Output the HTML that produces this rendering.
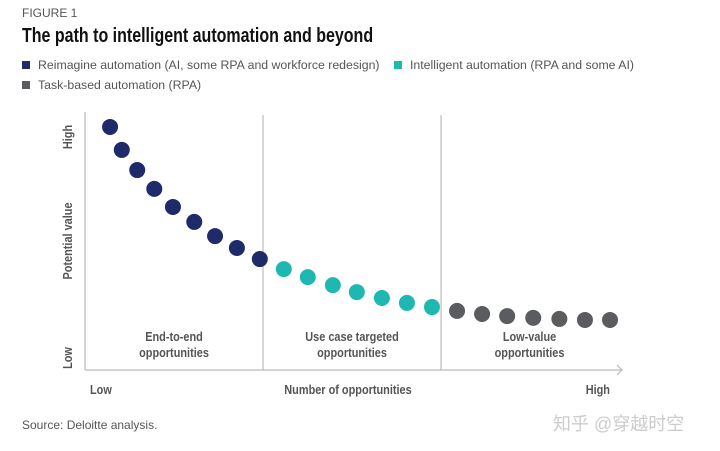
<!DOCTYPE html>
<html><head><meta charset="utf-8"><style>
body{margin:0;width:720px;height:451px;background:#fff;overflow:hidden;font-family:"Liberation Sans",sans-serif;position:relative}
.t{position:absolute;white-space:nowrap}
.sq{display:inline-block;width:8px;height:8px;margin-right:8px;vertical-align:0}
</style></head><body>
<div class="t" style="left:22px;top:6px;font-size:12px;color:#555">FIGURE 1</div>
<div class="t" style="left:22px;top:25px;font-size:20px;font-weight:bold;color:#111;transform:scaleX(0.80);transform-origin:0 0">The path to intelligent automation and beyond</div>
<div class="t" style="left:22px;top:58px;font-size:12.3px;color:#555"><span class="sq" style="background:#1f2a6b"></span>Reimagine automation (AI, some RPA and workforce redesign)</div>
<div class="t" style="left:394px;top:58px;font-size:12.3px;color:#555"><span class="sq" style="background:#1fb8b0"></span>Intelligent automation (RPA and some AI)</div>
<div class="t" style="left:22px;top:78px;font-size:12.3px;color:#555"><span class="sq" style="background:#5a5c60"></span>Task-based automation (RPA)</div>
<svg id="c" width="720" height="451" style="position:absolute;left:0;top:0" font-family="'Liberation Sans',sans-serif"></svg>
<div class="t" style="left:22px;top:418px;font-size:12px;color:#555">Source: Deloitte analysis.</div>
<div class="t" style="left:553px;top:410px;font-size:18px;color:#ccc;font-family:'Liberation Sans','Noto Sans CJK SC',sans-serif">知乎 @穿越时空</div>
<script>
const navyX=[4.7,6.9,9.8,13.0,16.5,20.5,24.4,28.5,32.8];
const navyY=[94.2,85.3,77.5,70.2,63.2,57.4,51.9,47.3,43.0];
const tealX=[37.3,41.8,46.5,51.0,55.7,60.4,65.1];
const tealY=[39.1,36.0,32.9,30.2,27.9,26.0,24.4];
const grayX=[69.8,74.5,79.2,84.1,89.0,93.8,98.5];
const grayY=[22.9,21.7,20.9,20.2,19.8,19.4,19.4];
const dividers=[33.4,66.8];
const sectionLabels=[["End-to-end","opportunities"],["Use case targeted","opportunities"],["Low-value","opportunities"]];
const X0=85,X1=618,Y0=370,Y1=112;
const sx=v=>X0+v/100*(X1-X0), sy=v=>Y0-v/100*(Y0-Y1);
const svg=document.getElementById('c'),NS='http://www.w3.org/2000/svg';
function mk(t,a){const e=document.createElementNS(NS,t);for(const k in a)e.setAttribute(k,a[k]);svg.appendChild(e);return e;}
function condense(el){const w=el.getComputedTextLength();el.setAttribute('textLength',(w*0.84).toFixed(1));el.setAttribute('lengthAdjust','spacingAndGlyphs');}
let e;
e=mk('line',{x1:X0,y1:Y1,x2:X0,y2:Y0,stroke:'#bbb','stroke-width':1.2});


e=mk('line',{x1:X0,y1:Y0,x2:X1+4,y2:Y0,stroke:'#bbb','stroke-width':1.2});


e=mk('polyline',{points:`${X1-1},${Y0-5} ${X1+4},${Y0} ${X1-1},${Y0+5}`,fill:'none',stroke:'#bbb','stroke-width':1.2});


dividers.forEach(d=>{
 e=mk('line',{x1:sx(d),y1:Y1+3,x2:sx(d),y2:Y0,stroke:'#bbb','stroke-width':1.2});
 
 
});
const bounds=[0,...dividers,100];
sectionLabels.forEach((l,i)=>{
 const cx=(sx(bounds[i])+sx(bounds[i+1]))/2;
 l.forEach((s,j)=>{
  e=mk('text',{x:cx,y:341+j*16,'text-anchor':'middle','font-size':13,'font-weight':'bold',fill:'#555'});
  e.textContent=s;
  
  
  condense(e);
 });
});
function series(xs,ys,col,name){xs.forEach((x,i)=>{
 e=mk('circle',{cx:sx(x),cy:sy(ys[i]),r:8,fill:col});
 
 
});}
series(navyX,navyY,'#1f2a6b','point-reimagine');
series(tealX,tealY,'#1fb8b0','point-intelligent');
series(grayX,grayY,'#5a5c60','point-task');
function txt(s,a,name){e=mk('text',Object.assign({'font-size':13,'font-weight':'bold',fill:'#555'},a));e.textContent=s;
 
 
 condense(e);}
txt('Low',{x:90,y:394},'x-tick-low');
txt('Number of opportunities',{x:348,y:394,'text-anchor':'middle'},'x-axis-title');
txt('High',{x:610,y:394,'text-anchor':'end'},'x-tick-high');
txt('High',{x:72,y:137,transform:'rotate(-90 72 137)','text-anchor':'middle'},'y-tick-high');
txt('Potential value',{x:72,y:241,transform:'rotate(-90 72 241)','text-anchor':'middle'},'y-axis-title');
txt('Low',{x:72,y:358,transform:'rotate(-90 72 358)','text-anchor':'middle'},'y-tick-low');
</script>
</body></html>
